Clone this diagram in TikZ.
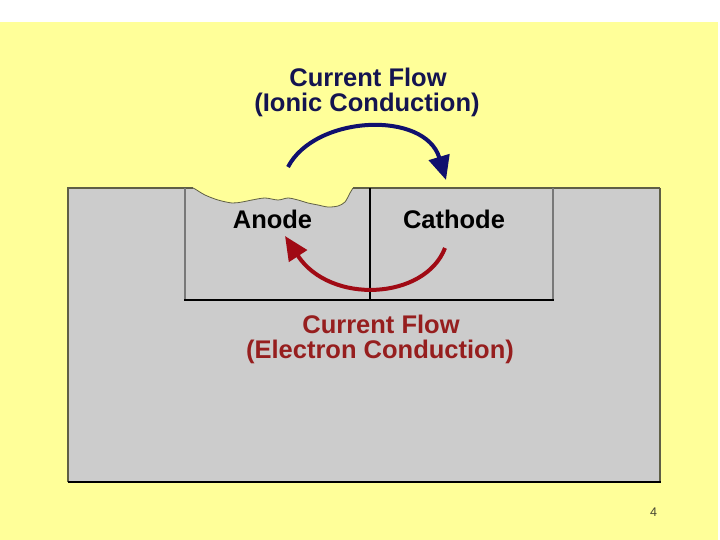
\documentclass[tikz,border=0pt]{standalone}
\usepackage{fontspec}
\setmainfont{Liberation Sans}
\usetikzlibrary{arrows.meta}
\definecolor{bgyellow}{RGB}{255,255,153}
\definecolor{metal}{RGB}{204,204,204}
\definecolor{edgeolive}{RGB}{95,95,70}
\definecolor{edgegray}{RGB}{120,120,120}
\definecolor{ionblue}{RGB}{16,16,110}
\definecolor{textblue}{RGB}{20,20,80}
\definecolor{elecred}{RGB}{160,10,20}
\definecolor{textred}{RGB}{150,30,30}
\definecolor{pagenum}{RGB}{70,70,50}
\tikzset{
  bigtext/.style={anchor=base, inner sep=0pt, font=\fontsize{25.5}{30}\selectfont\bfseries},
  flowarrow/.style={line width=4pt, -{Triangle[length=24pt,width=21pt]}},
}
\begin{document}
\begin{tikzpicture}[x=1pt,y=-1pt]
\useasboundingbox (0,0) rectangle (720,540);
% background
\fill[white] (0,0) rectangle (720,540);
\fill[bgyellow] (0,22) rectangle (718,540);
% metal block
\fill[metal] (68,188) rectangle (660,482);
% corrosion pit
\fill[bgyellow] plot[smooth] coordinates {(193,187.5) (195,189) (205,195) (218,200) (232,203) (242,202) (252,200) (265,198) (278,200) (288,198) (298,200) (308,203) (318,205) (328,207) (338,206) (345,202) (350,193) (353,187.5)} -- cycle;
\draw[edgeolive, line width=0.8pt] plot[smooth] coordinates {(193,188) (195,189) (205,195) (218,200) (232,203) (242,202) (252,200) (265,198) (278,200) (288,198) (298,200) (308,203) (318,205) (328,207) (338,206) (345,202) (350,193) (353,188)};
% outer borders
\draw[edgeolive, line width=2pt] (68,482) -- (68,188) -- (193,188);
\draw[edgeolive, line width=2pt] (353,188) -- (660,188);
\draw[edgeolive, line width=2pt] (660,188) -- (660,482);
\draw[black, line width=2pt] (68,482) -- (661,482);
% inner box
\draw[edgegray, line width=2pt] (185,188) -- (185,300);
\draw[edgegray, line width=2pt] (553,188) -- (553,300);
\draw[black, line width=2pt] (184,300) -- (554,300);
\draw[black, line width=2pt] (369.5,188) -- (369.5,300);
% texts
\node[bigtext, text=textblue] (ionic1) at (368,87) {Current Flow};
\node[bigtext, text=textblue] (ionic2) at (367,112) {(Ionic Conduction)};
\node[bigtext, text=black] (anode) at (272.5,229) {Anode};
\node[bigtext, text=black] (cathode) at (454,229) {Cathode};
\node[bigtext, text=textred] (elec1) at (381,333) {Current Flow};
\node[bigtext, text=textred] (elec2) at (380,358) {(Electron Conduction)};
\node[anchor=base, inner sep=0pt, text=pagenum, font=\fontsize{12.5}{15}\selectfont] (page) at (653.5,516) {4};
% arrows
\coordinate (ionstart) at (288,167);
\coordinate (iontip) at (446,180);
\coordinate (elecstart) at (445,248);
\coordinate (electip) at (285,236);
\draw[flowarrow, ionblue] (ionstart) .. controls (315,115) and (425,110) .. (iontip);
\draw[flowarrow, elecred] (elecstart) .. controls (425,300) and (330,305) .. (electip);
\end{tikzpicture}
\end{document}
